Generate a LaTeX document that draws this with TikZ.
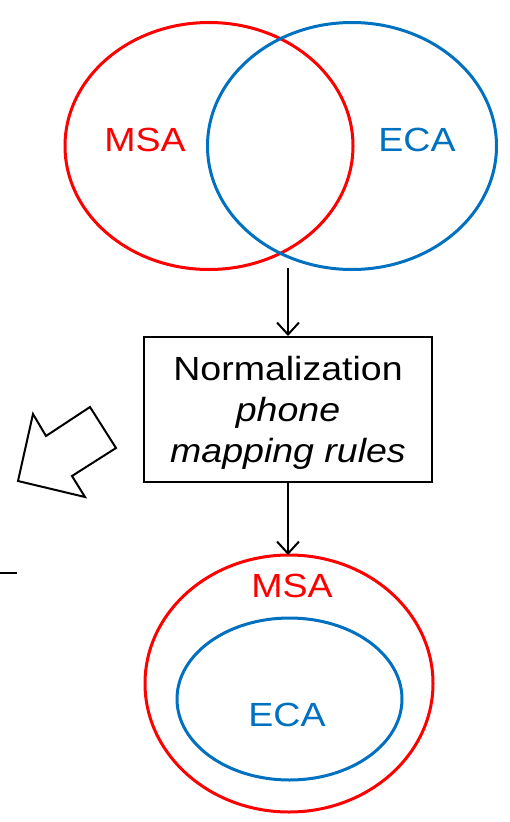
\documentclass[tikz,border=0pt]{standalone}
\usepackage{fontspec}
\setmainfont{Liberation Sans}
\usetikzlibrary{shapes.geometric,arrows.meta}
\definecolor{msared}{RGB}{255,0,0}
\definecolor{ecablue}{RGB}{0,112,192}
\newcommand{\wide}[1]{\scalebox{1.12}[1]{#1}}

\begin{document}
\begin{tikzpicture}[x=1pt,y=-1pt]
   \useasboundingbox (0,0) rectangle (510,822);
   \fontsize{33.5}{41}\selectfont
   \tikzstyle{venn}=[ellipse, draw, line width=3pt, inner sep=0pt, outer sep=0pt]
   \tikzstyle{flow}=[line width=2pt, -{Straight Barb[length=12pt,width=22pt]}]
   % two overlapping sets
   \node[venn, draw=msared, minimum width=288, minimum height=247] (msa1) at (209,146) {};
   \node[venn, draw=ecablue, minimum width=289, minimum height=247] (eca1) at (352,146) {};
   \node[anchor=base, text=msared] (msa1label) at (145,151) {\wide{MSA}};
   \node[anchor=base, text=ecablue] (eca1label) at (417,151) {\wide{ECA}};
   \coordinate (meet) at (288,268);
   % normalization step
   \node[draw, line width=2pt, minimum width=288, minimum height=145, inner sep=0pt]
        (norm) at (288,409.5) {};
   \node[align=center, inner sep=0pt] (normtext) at (288,413)
        {\wide{Normalization}\\ \wide{\itshape phone}\\ \wide{\itshape mapping rules}};
   \path[flow] (meet) edge (norm.north);
   % nested sets
   \node[venn, draw=msared, minimum width=288, minimum height=257] (msa2) at (289,683.5) {};
   \node[venn, draw=ecablue, minimum width=225, minimum height=162] (eca2) at (289.5,699) {};
   \node[anchor=base, text=msared] (msa2label) at (292,597) {\wide{MSA}};
   \node[anchor=base, text=ecablue] (eca2label) at (287,726) {\wide{ECA}};
   \path[flow] (norm.south) edge (norm.south |- msa2.north);
   % block arrow and stub on the left
   \draw[line width=2pt, line join=miter] (18,481) -- (33,414) -- (46,436) -- (90,407)
        -- (116,448) -- (72,476) -- (85,497) -- cycle;
   \draw[line width=2pt] (0,573) -- (17,573);
\end{tikzpicture}
\end{document}
